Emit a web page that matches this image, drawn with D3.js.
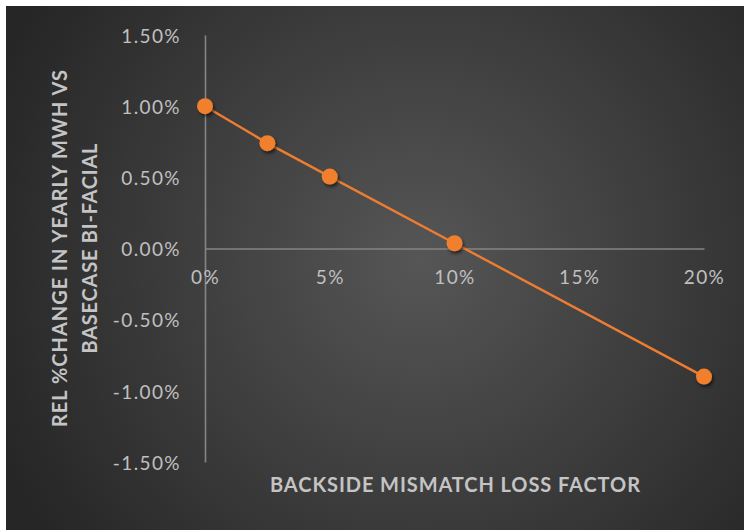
<!DOCTYPE html>
<html>
<head>
<meta charset="utf-8">
<script src="https://cdn.jsdelivr.net/npm/d3@7"></script>
<style>
  html, body { margin: 0; padding: 0; background: #ffffff; }
  svg { display: block; }
</style>
</head>
<body>
<svg id="chart" width="744" height="530"></svg>
<script>
// Backside mismatch loss factor (%) vs relative change in yearly MWh (%)
const mismatchFactors = [0, 2.5, 5, 10, 20];
const relChange = [1.00, 0.74, 0.505, 0.037, -0.90];
const xTicks = [0, 5, 10, 15, 20];
const yTicks = [-1.5, -1.0, -0.5, 0, 0.5, 1.0, 1.5];
const xTitle = "BACKSIDE MISMATCH LOSS FACTOR";
const yTitleLines = ["REL %CHANGE IN YEARLY MWH VS", "BASECASE BI-FACIAL"];

const W = 744, H = 530;
const svg = d3.select("#chart");
const defs = svg.append("defs");

const grad = defs.append("radialGradient")
  .attr("id", "bg").attr("gradientUnits", "userSpaceOnUse")
  .attr("cx", 420).attr("cy", 260).attr("r", 460);
grad.append("stop").attr("offset", "0%").attr("stop-color", "#565656");
grad.append("stop").attr("offset", "100%").attr("stop-color", "#262626");

const shadow = defs.append("filter").attr("id", "dotShadow")
  .attr("x", "-50%").attr("y", "-50%").attr("width", "200%").attr("height", "200%");
shadow.append("feDropShadow")
  .attr("dx", 1.5).attr("dy", 2.5).attr("stdDeviation", 1.8)
  .attr("flood-color", "#000").attr("flood-opacity", 0.55);

svg.append("rect").attr("x", 6).attr("y", 6)
  .attr("width", W - 6).attr("height", H - 6).attr("fill", "url(#bg)");

const x = d3.scaleLinear().domain([0, 20]).range([205, 704]);
const y = d3.scaleLinear().domain([-1.5, 1.5]).range([462, 35]);

const axisColor = "#858585";
const labelColor = "#c0c0c0";
const pct = d => (d < 0 ? "-" : "") + Math.abs(d).toFixed(2) + "%";

// vertical axis at x = 0
const yAxis = d3.axisLeft(y).tickValues(yTicks).tickSize(0).tickFormat(pct);
const gy = svg.append("g").attr("transform", `translate(${x(0)},0)`).call(yAxis);
gy.select(".domain").attr("stroke", axisColor).attr("stroke-width", 1.6);
gy.selectAll("text")
  .attr("x", -24).attr("dy", "0.38em")
  .attr("fill", labelColor)
  .style("font-family", "Lato, 'Open Sans', sans-serif")
  .style("font-size", "19px")
  .style("letter-spacing", "1.4px");

// horizontal axis at y = 0, labels below it
const xAxis = d3.axisBottom(x).tickValues(xTicks).tickSize(0)
  .tickFormat(d => d + "%");
const gx = svg.append("g").attr("transform", `translate(0,${y(0)})`).call(xAxis);
gx.select(".domain").attr("stroke", axisColor).attr("stroke-width", 1.6);
gx.selectAll("text")
  .attr("y", 35).attr("dy", "0")
  .attr("fill", labelColor)
  .style("font-family", "Lato, 'Open Sans', sans-serif")
  .style("font-size", "19px")
  .style("letter-spacing", "1.4px");
svg.selectAll(".domain").attr("fill", "none");

// series line and markers
const pts = mismatchFactors.map((f, i) => [f, relChange[i]]);
svg.append("path")
  .datum(pts)
  .attr("fill", "none")
  .attr("stroke", "#ED7D31")
  .attr("stroke-width", 2.4)
  .attr("d", d3.line().x(d => x(d[0])).y(d => y(d[1])));

svg.append("g").selectAll("circle")
  .data(pts).join("circle")
  .attr("cx", d => x(d[0])).attr("cy", d => y(d[1]))
  .attr("r", 8)
  .attr("fill", "#F07F2E")
  .attr("filter", "url(#dotShadow)");

// axis titles
const titleStyle = sel => sel
  .attr("fill", "#c4c4c4")
  .style("font-family", "Lato, 'Open Sans', sans-serif")
  .style("font-weight", "700")
  .style("font-size", "20px");

svg.append("text")
  .attr("x", 455).attr("y", 492)
  .attr("text-anchor", "middle")
  .attr("textLength", 370).attr("lengthAdjust", "spacing")
  .text(xTitle)
  .call(titleStyle);

const yLen = [357, 210];
const yTitle = svg.append("g")
  .attr("transform", "translate(0,248.5) rotate(-90)");
yTitleLines.forEach((line, i) => {
  yTitle.append("text")
    .attr("x", 0).attr("y", 66.5 + i * 30.5)
    .attr("text-anchor", "middle")
    .attr("textLength", yLen[i]).attr("lengthAdjust", "spacing")
    .text(line)
    .call(titleStyle);
});
</script>
</body>
</html>
